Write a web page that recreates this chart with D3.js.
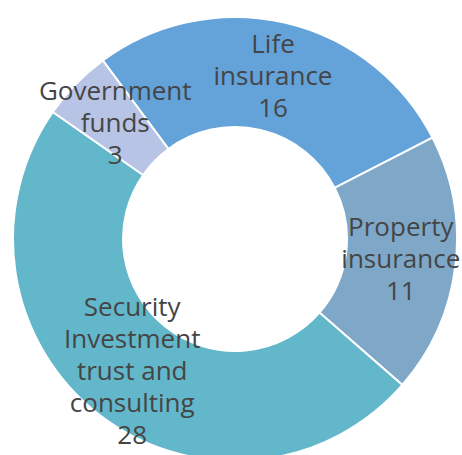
<!DOCTYPE html>
<html lang="en">
<head>
  <meta charset="UTF-8">
  <title>Donut</title>
  <script src="https://cdn.jsdelivr.net/npm/d3@7"></script>
  <style>
    body { margin: 0; background: #fff; }
  </style>
</head>
<body>
  <svg width="462" height="455"></svg>
  <script>
    let categories = ['Life insurance', 'Property insurance', 'Security Investment trust and consulting', 'Government funds'];
    let values = [16, 11, 28, 3];
    // label lines as drawn in the picture
    let labelLines = [['Life', 'insurance'], ['Property', 'insurance'], ['Security', 'Investment', 'trust and', 'consulting'], ['Government', 'funds']];
    let colors = ['#64a2da', '#7fa8c8', '#63b7ca', '#b8c4e6'];

    let cx = 235, cy = 239, outer = 222, inner = 112;
    let startDeg = -36.5;

    let svg = d3.select('svg');
    let g = svg.append('g').attr('transform', `translate(${cx},${cy})`);

    let pie = d3.pie()
      .sort(null)
      .startAngle(startDeg * Math.PI / 180)
      .endAngle((startDeg + 360) * Math.PI / 180);
    let arcs = pie(values);
    let arc = d3.arc().innerRadius(inner).outerRadius(outer);

    g.selectAll('path')
      .data(arcs)
      .join('path')
      .attr('d', arc)
      .attr('fill', (d, i) => colors[i])
      .attr('stroke', '#fff')
      .attr('stroke-width', 2);

    let fs = 26, lh = 32;
    arcs.forEach((d, i) => {
      let c = arc.centroid(d);
      let lines = labelLines[i].concat([String(values[i])]);
      let top = c[1] - (lines.length - 1) * lh / 2;
      let t = g.append('text')
        .attr('text-anchor', 'middle')
        .attr('font-family', 'Open Sans, sans-serif')
        .attr('font-size', fs)
        .attr('fill', '#454545');
      lines.forEach((s, j) => {
        t.append('tspan')
          .attr('x', c[0])
          .attr('y', top + j * lh)
          .attr('dy', '0.35em')
          .text(s);
      });
    });
  </script>
</body>
</html>
